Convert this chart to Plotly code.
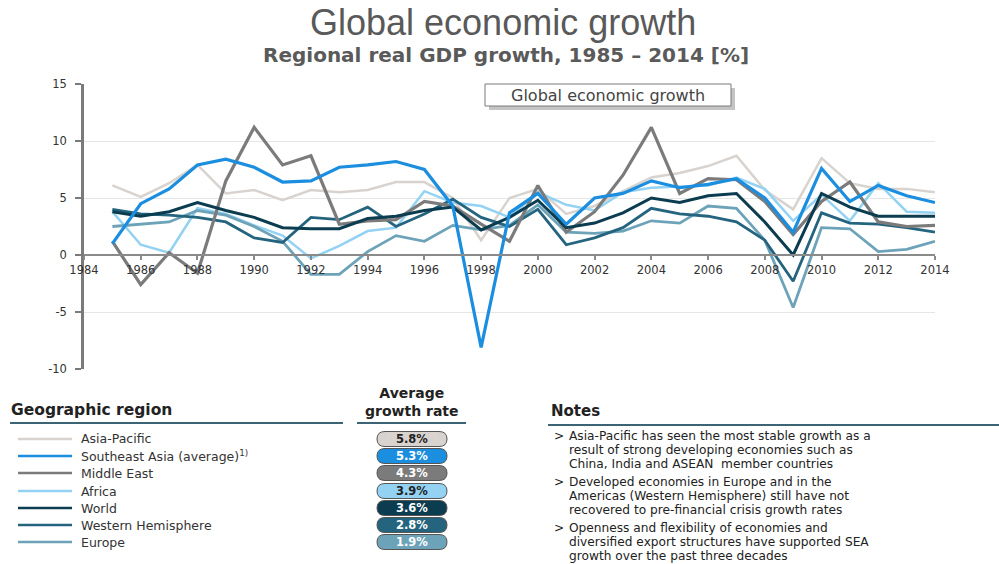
import plotly.graph_objects as go

years = list(range(1985, 2015))

asia_pacific = [6.1, 5.1, 6.3, 7.9, 5.4, 5.7, 4.8, 5.7, 5.5, 5.7, 6.4, 6.4, 5.0, 1.3, 5.0,
                5.8, 3.6, 4.3, 5.6, 6.8, 7.2, 7.8, 8.7, 5.7, 4.0, 8.5, 6.3, 5.8, 5.8, 5.5]
southeast_asia = [1.0, 4.5, 5.8, 7.9, 8.4, 7.7, 6.4, 6.5, 7.7, 7.9, 8.2, 7.5, 4.3, -8.1, 3.7,
                  5.4, 2.7, 5.0, 5.4, 6.5, 5.9, 6.2, 6.7, 5.0, 2.0, 7.6, 4.7, 6.1, 5.2, 4.6]
middle_east = [1.2, -2.6, 0.2, -1.6, 6.5, 11.2, 7.9, 8.7, 2.7, 3.0, 3.1, 4.7, 4.3, 2.7, 1.2,
               6.1, 2.0, 3.8, 7.0, 11.2, 5.4, 6.7, 6.6, 4.7, 1.8, 4.7, 6.4, 2.9, 2.5, 2.6]
africa = [3.8, 0.9, 0.2, 4.1, 3.6, 2.6, 1.7, -0.3, 0.8, 2.1, 2.4, 5.6, 4.6, 4.3, 3.3,
          5.5, 4.4, 3.9, 5.5, 5.9, 6.0, 6.1, 6.8, 5.8, 3.0, 5.3, 3.0, 6.3, 3.8, 3.7]
world = [3.8, 3.4, 3.8, 4.6, 3.9, 3.3, 2.4, 2.3, 2.3, 3.2, 3.4, 3.9, 4.2, 2.2, 3.3,
         4.8, 2.4, 2.8, 3.7, 5.0, 4.6, 5.2, 5.4, 2.9, 0.0, 5.4, 4.2, 3.4, 3.4, 3.4]
western_hemisphere = [4.0, 3.6, 3.5, 3.3, 2.9, 1.5, 1.1, 3.3, 3.1, 4.2, 2.5, 3.6, 4.9, 3.3, 2.5,
                      4.0, 0.9, 1.5, 2.4, 4.1, 3.6, 3.4, 2.9, 1.3, -2.3, 3.7, 2.8, 2.7, 2.4, 2.0]
europe = [2.5, 2.7, 2.9, 3.9, 3.5, 2.5, 1.2, -1.7, -1.7, 0.3, 1.7, 1.2, 2.6, 2.2, 2.6,
          4.4, 2.0, 1.9, 2.1, 3.0, 2.8, 4.3, 4.1, 1.3, -4.6, 2.4, 2.3, 0.3, 0.5, 1.2]

region_names = ["Asia-Pacific", "Southeast Asia (average)<sup>1)</sup>", "Middle East", "Africa",
                "World", "Western Hemisphere", "Europe"]
average_growth = [5.8, 5.3, 4.3, 3.9, 3.6, 2.8, 1.9]
series = [asia_pacific, southeast_asia, middle_east, africa, world, western_hemisphere, europe]

x_tick_vals = [1984, 1986, 1988, 1990, 1992, 1994, 1996, 1998, 2000, 2002, 2004, 2006, 2008, 2010, 2012, 2014]
y_tick_vals = [-10, -5, 0, 5, 10, 15]
y_tick_text = ["-10", "-5", "0", "5", "10", "15"]

colors = ["#d8d3cf", "#1b8ee0", "#7b7b7b", "#93d2f2", "#0b3c50", "#24647e", "#6da3b8"]
widths = [2.5, 3.2, 3.2, 2.5, 3.0, 2.8, 2.8]
pill_text_colors = ["#222222", "white", "white", "#222222", "white", "white", "white"]

notes = [
    ["Asia-Pacific has seen the most stable growth as a",
     "result of strong developing economies such as",
     "China, India and ASEAN  member countries"],
    ["Developed economies in Europe and in the",
     "Americas (Western Hemisphere) still have not",
     "recovered to pre-financial crisis growth rates"],
    ["Openness and flexibility of economies and",
     "diversified export structures have supported SEA",
     "growth over the past three decades"],
]

FONT = "Liberation Sans, Arial, sans-serif"
WIDE = "DejaVu Sans, sans-serif"
L, R, T, B = 84, 64, 84, 195
W, H = 999, 564
PW, PH = W - L - R, H - T - B


def px(x):
    return (x - L) / PW


def py(y):
    return (H - B - y) / PH


fig = go.Figure()
order = [0, 3, 6, 5, 2, 4, 1]
for i in order:
    fig.add_trace(go.Scatter(x=years, y=series[i], mode="lines", name=region_names[i],
                             line=dict(color=colors[i], width=widths[i]), showlegend=False,
                             hoverinfo="skip"))

shapes = []
annotations = []


def txt(text, x, y, size, family=WIDE, color="#222222", xanchor="left", yanchor="middle", pad=0):
    annotations.append(dict(text=text, x=px(x), xref="paper", y=py(y), yref="paper",
                            xanchor=xanchor, yanchor=yanchor, showarrow=False, borderpad=pad,
                            font=dict(family=family, size=size, color=color)))


# titles
txt("Global economic growth", 503, 22, 36, family=FONT, color="#595959", xanchor="center")
txt("<b>Regional real GDP growth, 1985 – 2014 [%]</b>", 506, 55, 20, color="#5a5a5a", xanchor="center")

# boxed label with shadow
shapes.append(dict(type="rect", xref="paper", yref="paper", x0=px(489), x1=px(735), y0=py(88), y1=py(110),
                   fillcolor="#c4c4c4", line=dict(width=0), layer="above"))
shapes.append(dict(type="rect", xref="paper", yref="paper", x0=px(485), x1=px(731), y0=py(84), y1=py(106),
                   fillcolor="white", line=dict(color="#7a7a7a", width=1), layer="above"))
txt("Global economic growth", 608, 95.5, 16, color="#444444", xanchor="center")

# table headers
txt("<b>Geographic region</b>", 10, 410, 15.5)
txt("<b>Average<br>growth rate</b>", 412, 420, 14, xanchor="center", yanchor="bottom")
txt("<b>Notes</b>", 550, 411, 15)
for (a, b, yy) in [(10, 343, 423), (357, 466, 423), (548, 999, 425)]:
    shapes.append(dict(type="line", xref="paper", yref="paper", x0=px(a), x1=px(b), y0=py(yy), y1=py(yy),
                       line=dict(color="#3d6475", width=2)))

row_y = [439, 456, 473, 491, 508, 525, 542]
pill = "M -27 -7.5 L 27 -7.5 Q 35 -7.5 35 0 Q 35 7.5 27 7.5 L -27 7.5 Q -35 7.5 -35 0 Q -35 -7.5 -27 -7.5 Z"
for i, yy in enumerate(row_y):
    shapes.append(dict(type="line", xref="paper", yref="paper", x0=px(18), x1=px(72), y0=py(yy), y1=py(yy),
                       line=dict(color=colors[i], width=2.5)))
    txt(region_names[i], 80, yy, 12.5, color="#333333")
    shapes.append(dict(type="path", xref="paper", yref="paper", xsizemode="pixel", ysizemode="pixel",
                       xanchor=px(412), yanchor=py(yy), path=pill, fillcolor=colors[i],
                       line=dict(color="#555555", width=1)))
    txt("<b>%.1f%%</b>" % average_growth[i], 412, yy, 11.5, color=pill_text_colors[i], xanchor="center")

# notes
note_y = [[436, 450.2, 464.4], [481.9, 496.1, 510.3], [527.8, 542, 556.2]]
for block, ys in zip(notes, note_y):
    txt(">", 553, ys[0], 12.2)
    for line, yy in zip(block, ys):
        txt(line, 568, yy, 12.2)

fig.update_layout(
    width=W, height=H, autosize=False,
    margin=dict(l=L, r=R, t=T, b=B),
    paper_bgcolor="white", plot_bgcolor="white",
    shapes=shapes, annotations=annotations,
    xaxis=dict(range=[1984, 2014], tickmode="array", tickvals=x_tick_vals,
               anchor="free", position=py(255), showline=True, linecolor="#8a8a8a", linewidth=2,
               ticks="outside", ticklen=4, tickwidth=1.5, tickcolor="#8a8a8a", showgrid=False,
               zeroline=False, tickfont=dict(family=WIDE, size=11.5, color="#333333")),
    yaxis=dict(range=[-10, 15], tickmode="array", tickvals=y_tick_vals, ticktext=y_tick_text,
               showline=True, linecolor="#7a7a7a", linewidth=2.5, ticks="outside", ticklen=6,
               tickwidth=1.5, tickcolor="#7a7a7a", showgrid=True, gridcolor="#e6e6e6", gridwidth=1,
               ticklabelstandoff=6,
               zeroline=False, tickfont=dict(family=WIDE, size=11.5, color="#333333")),
)

fig.write_html("out.html")
